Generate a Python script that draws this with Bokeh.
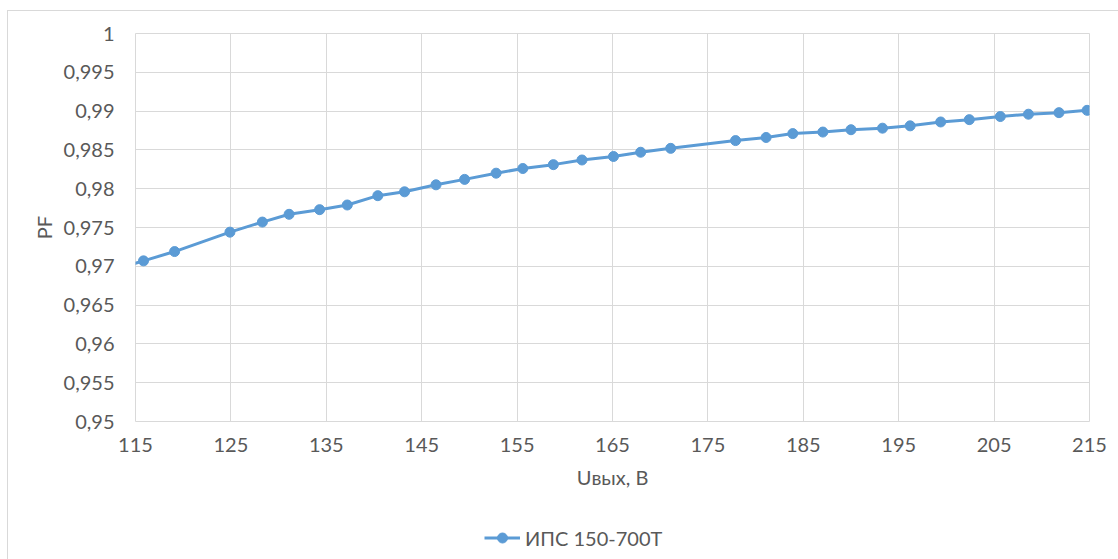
from bokeh.plotting import figure
from bokeh.layouts import column
from bokeh.models import (Range1d, FixedTicker, CustomJSTickFormatter, Legend, LegendItem)
from bokeh.embed import file_html
from bokeh.resources import INLINE

# ---- data ----
u_out = [112.6, 115.84, 119.1, 124.9, 128.3, 131.1, 134.3, 137.2, 140.4, 143.2,
         146.5, 149.5, 152.8, 155.6, 158.8, 161.8, 165.1, 167.95, 171.1, 177.9,
         181.1, 183.9, 187.05, 190.0, 193.3, 196.2, 199.4, 202.4, 205.65, 208.6,
         211.8, 214.75]
pf = [0.96952, 0.9707, 0.9719, 0.9744, 0.9757, 0.9767, 0.9773, 0.9779, 0.9791, 0.9796,
      0.9805, 0.9812, 0.9820, 0.9826, 0.9831, 0.9837, 0.98415, 0.9847, 0.9852, 0.9862,
      0.9866, 0.9871, 0.9873, 0.9876, 0.9878, 0.9881, 0.9886, 0.9889, 0.9893, 0.9896,
      0.9898, 0.9901]
x_ticks = [115, 125, 135, 145, 155, 165, 175, 185, 195, 205, 215]
y_ticks = [0.95, 0.955, 0.96, 0.965, 0.97, 0.975, 0.98, 0.985, 0.99, 0.995, 1.0]
series_name = "ИПС 150-700Т"
x_label = "Uвых, В"
y_label = "PF"

FONT = "Lato"
TXT = "#595959"
GRID = "#d9d9d9"
BLUE = "#5B9BD5"

W, H = 1110, 496
HB = 52
FL, FT, FR, FB = 127, 22, 1081, 410

p = figure(width=W, height=H, output_backend="svg", toolbar_location=None,
           x_range=Range1d(x_ticks[0], x_ticks[-1]), y_range=Range1d(y_ticks[0], y_ticks[-1]),
           min_border_left=FL, min_border_top=FT, min_border_right=W - FR,
           min_border_bottom=H - FB)
p.outline_line_color = GRID
p.background_fill_color = "white"
p.border_fill_color = "white"

p.xaxis.ticker = FixedTicker(ticks=x_ticks)
p.yaxis.ticker = FixedTicker(ticks=y_ticks)
p.xgrid.ticker = FixedTicker(ticks=x_ticks)
p.ygrid.ticker = FixedTicker(ticks=y_ticks)
p.yaxis.formatter = CustomJSTickFormatter(
    code="return Number(tick.toFixed(3)).toString().replace('.', ',');")

for g in (p.xgrid, p.ygrid):
    g.grid_line_color = GRID
    g.grid_line_width = 1

for ax in (p.xaxis, p.yaxis):
    ax.axis_line_color = None
    ax.major_tick_line_color = None
    ax.minor_tick_line_color = None
    ax.major_tick_out = 0
    ax.major_tick_in = 0
    ax.minor_tick_out = 0
    ax.major_label_text_font = FONT
    ax.major_label_text_font_size = "20px"
    ax.major_label_text_color = TXT
    ax.axis_label_text_font = FONT
    ax.axis_label_text_font_size = "20px"
    ax.axis_label_text_color = TXT
    ax.axis_label_text_font_style = "normal"

p.xaxis.axis_label = x_label
p.yaxis.axis_label = y_label
p.xaxis.major_label_standoff = 16
p.xaxis.axis_label_standoff = 10
p.yaxis.major_label_standoff = 21
p.yaxis.axis_label_standoff = 5

p.line(u_out, pf, line_color=BLUE, line_width=3)
p.scatter(u_out, pf, size=10, fill_color=BLUE, line_color=BLUE)

# legend strip below the chart (same series, off-range there; only the legend shows)
p2 = figure(width=W, height=HB, output_backend="svg", toolbar_location=None,
            x_range=Range1d(0, 1), y_range=Range1d(0, 1),
            x_axis_type=None, y_axis_type=None,
            min_border_left=0, min_border_right=0, min_border_top=0, min_border_bottom=0)
p2.outline_line_color = None
p2.xgrid.visible = False
p2.ygrid.visible = False
lg_line = p2.line(u_out, pf, line_color=BLUE, line_width=3)
lg_pts = p2.scatter(u_out, pf, size=10, fill_color=BLUE, line_color=BLUE)
legend = Legend(items=[LegendItem(label=series_name, renderers=[lg_line, lg_pts])],
                location=(349, 9), orientation="horizontal",
                padding=0, margin=0, spacing=0,
                glyph_width=36, glyph_height=25, label_standoff=5,
                label_text_font=FONT, label_text_font_size="20px",
                label_text_color=TXT, border_line_color=None,
                background_fill_alpha=0)
p2.add_layout(legend, "center")

layout = column(p, p2, spacing=0)
layout.styles = {"margin-left": "7px", "margin-top": "10px",
                 "border-left": "1px solid #d9d9d9", "border-top": "1px solid #d9d9d9"}

open("out.html", "w").write(file_html(layout, INLINE))
